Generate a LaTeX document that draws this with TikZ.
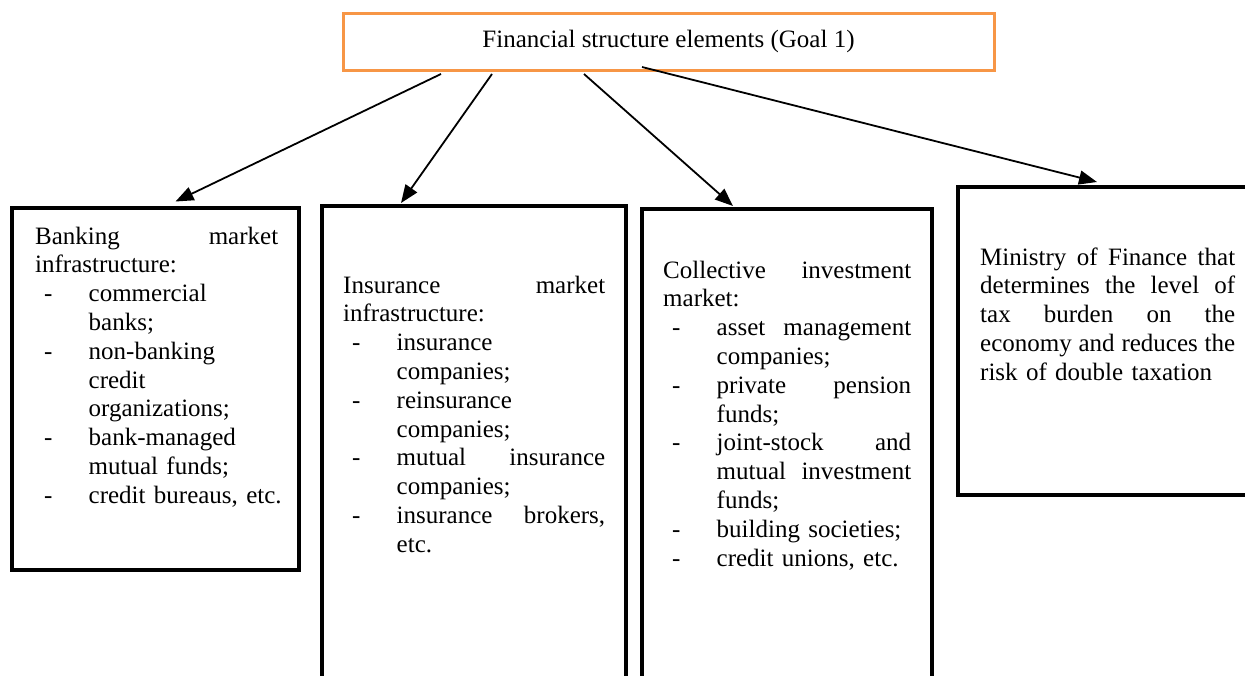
\documentclass[tikz,border=0pt]{standalone}
\usepackage{fontspec}
\setmainfont{Liberation Serif}
\usetikzlibrary{calc, arrows.meta}
\definecolor{goalorange}{RGB}{247,150,70}
\newcommand{\listdash}[1]{\par\noindent\hangindent=53.5pt\hangafter=1
  \hbox to 53.5pt{\hspace{9pt}-\hfil}#1}

\begin{document}
\begin{tikzpicture}
        [
          x=1pt, y=-1pt,
          box/.style={draw, line width=3.6pt, anchor=north west, inner sep=0pt, outer sep=0pt},
          goalbox/.style={draw=goalorange, line width=3pt, anchor=north west, inner sep=0pt, outer sep=0pt,
            minimum width=651pt, minimum height=57pt, font=\fontsize{25}{28.8}\selectfont},
          txt/.style={anchor=north west, inner sep=0pt, text width=#1,
            font=\fontsize{25}{28.8}\selectfont, execute at begin node={\parindent=0pt}},
          link/.style={line width=1.8pt, -{Triangle[length=18pt,width=14pt]}}
        ]
        \useasboundingbox (0,0) rectangle (1245,675);
        \clip (0,0) rectangle (1245,675);
        % goal
        \node [goalbox] (goal) at (343,13) {Financial structure elements (Goal 1)};
        % boxes
        \node [box, minimum width=287pt, minimum height=362pt] (bank) at (12,208) {};
        \node [box, minimum width=304pt, minimum height=490pt] (ins) at (322,206) {};
        \node [box, minimum width=290pt, minimum height=490pt] (coll) at (642,209) {};
        \node [box, minimum width=320pt, minimum height=308pt] (mof) at (958,187) {};
        % texts
        \node [txt=243pt] (banktxt) at (35,223.8) {\strut Banking\hfill market\newline infrastructure:
          \listdash{commercial\newline banks;}
          \listdash{non-banking\newline credit\newline organizations;}
          \listdash{bank-managed\newline mutual funds;}
          \listdash{\mbox{credit bureaus, etc.}}\par};
        \node [txt=262pt] (instxt) at (343,272.8) {\strut Insurance\hfill market\newline infrastructure:
          \listdash{insurance\newline companies;}
          \listdash{reinsurance\newline companies;}
          \listdash{mutual\hfill insurance\newline companies;}
          \listdash{insurance\hfill brokers,\newline etc.}\par};
        \node [txt=248pt] (colltxt) at (663,257.8) {\strut Collective\hfill investment\newline market:
          \listdash{asset\hfill management\newline companies;}
          \listdash{private\hfill pension\newline funds;}
          \listdash{joint-stock\hfill and\newline mutual\hfill investment\newline funds;}
          \listdash{building societies;}
          \listdash{credit unions, etc.}\par};
        \node [txt=255pt] (moftxt) at (980,244.8) {\strut Ministry\hfill of\hfill Finance\hfill that\newline
          determines\hfill the\hfill level\hfill of\newline tax\hfill burden\hfill on\hfill the\newline
          economy\hfill and\hfill reduces\hfill the\newline risk of double taxation\par};
        % arrows
        \draw [link] ($(goal.south west)+(98,4)$) -- ($(bank.north west)+(163.5,-6.5)$);
        \draw [link] ($(goal.south west)+(149,4)$) -- ($(ins.north west)+(79,-3)$);
        \draw [link] ($(goal.south west)+(241,4)$) -- ($(coll.north west)+(91,-3)$);
        \draw [link] ($(goal.south west)+(299,-3)$) -- ($(mof.north west)+(139,-5)$);
      \end{tikzpicture}
\end{document}
